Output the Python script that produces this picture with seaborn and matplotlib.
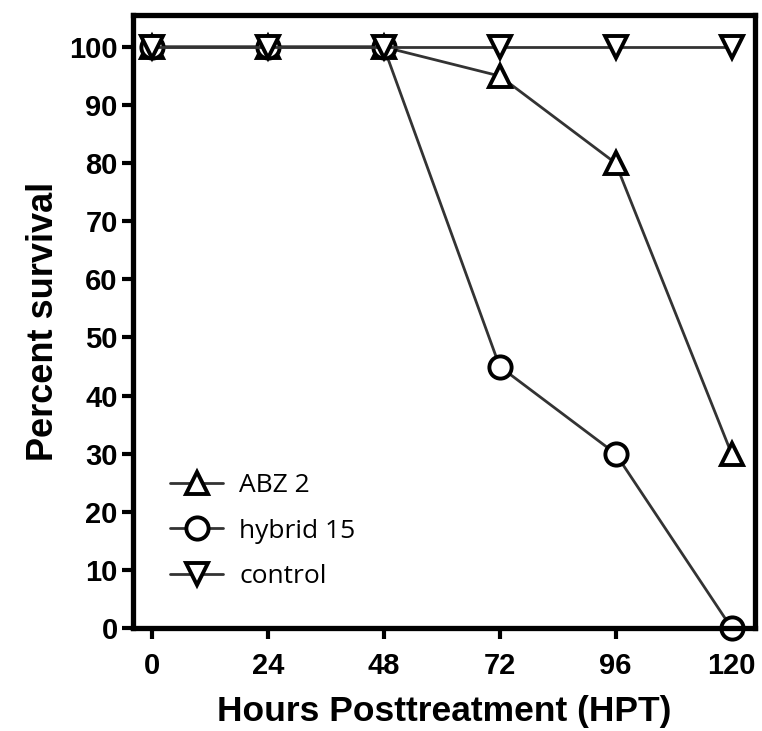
import matplotlib
matplotlib.use("Agg")
import matplotlib.pyplot as plt
import seaborn as sns
import pandas as pd

hours = [0, 24, 48, 72, 96, 120]
abz2 = [100, 100, 100, 95, 80, 30]
hybrid15 = [100, 100, 100, 45, 30, 0]
control = [100, 100, 100, 100, 100, 100]
series_names = ["ABZ 2", "hybrid 15", "control"]
series_markers = ["^", "o", "v"]
x_ticks = [0, 24, 48, 72, 96, 120]
y_ticks = list(range(0, 101, 10))

sns.set_theme(style="ticks")
plt.rcParams['font.family'] = ['Liberation Sans', 'DejaVu Sans']
plt.rcParams['text.color'] = 'black'
plt.rcParams['axes.labelcolor'] = 'black'
plt.rcParams['xtick.color'] = 'black'
plt.rcParams['ytick.color'] = 'black'

fig = plt.figure(figsize=(7.62, 7.31), dpi=100)
ax = fig.add_axes([0.1745, 0.1409, 0.816, 0.8386])

line_col = "#333333"
for name, vals, mk in zip(series_names, [abz2, hybrid15, control], series_markers):
    df = pd.DataFrame({"x": hours, "y": vals})
    sns.lineplot(data=df, x="x", y="y", ax=ax, color=line_col, linewidth=2.0,
                 marker=mk, markersize=16, markerfacecolor="white",
                 markeredgecolor="black", markeredgewidth=2.8, label=name,
                 clip_on=False, zorder=3)

ax.set_xlim(-3.9, 124.8)
ax.set_ylim(0, 105.5)
ax.set_xticks(x_ticks)
ax.set_yticks(y_ticks)
ax.set_xticklabels([str(t) for t in x_ticks], fontsize=21, fontweight="bold")
ax.set_yticklabels([str(t) for t in y_ticks], fontsize=21, fontweight="bold")
for s in ax.spines.values():
    s.set_linewidth(3.8)
    s.set_color("black")
    s.set_zorder(4)
ax.tick_params(axis="both", direction="out", length=8, width=3.0, color="black", pad=3)
ax.tick_params(axis="x", pad=9)
ax.set_xlabel("Hours Posttreatment (HPT)", fontsize=25.5, fontweight="bold", labelpad=11)
ax.set_ylabel("Percent survival", fontsize=26, fontweight="bold", labelpad=6)

leg = ax.legend(loc="upper left", bbox_to_anchor=(0.022, 0.292), frameon=False,
                prop={"family": ["Open Sans", "DejaVu Sans"], "size": 19},
                handlelength=2.0, handletextpad=0.6, labelspacing=0.79)

fig.savefig("out.png", dpi=100)
